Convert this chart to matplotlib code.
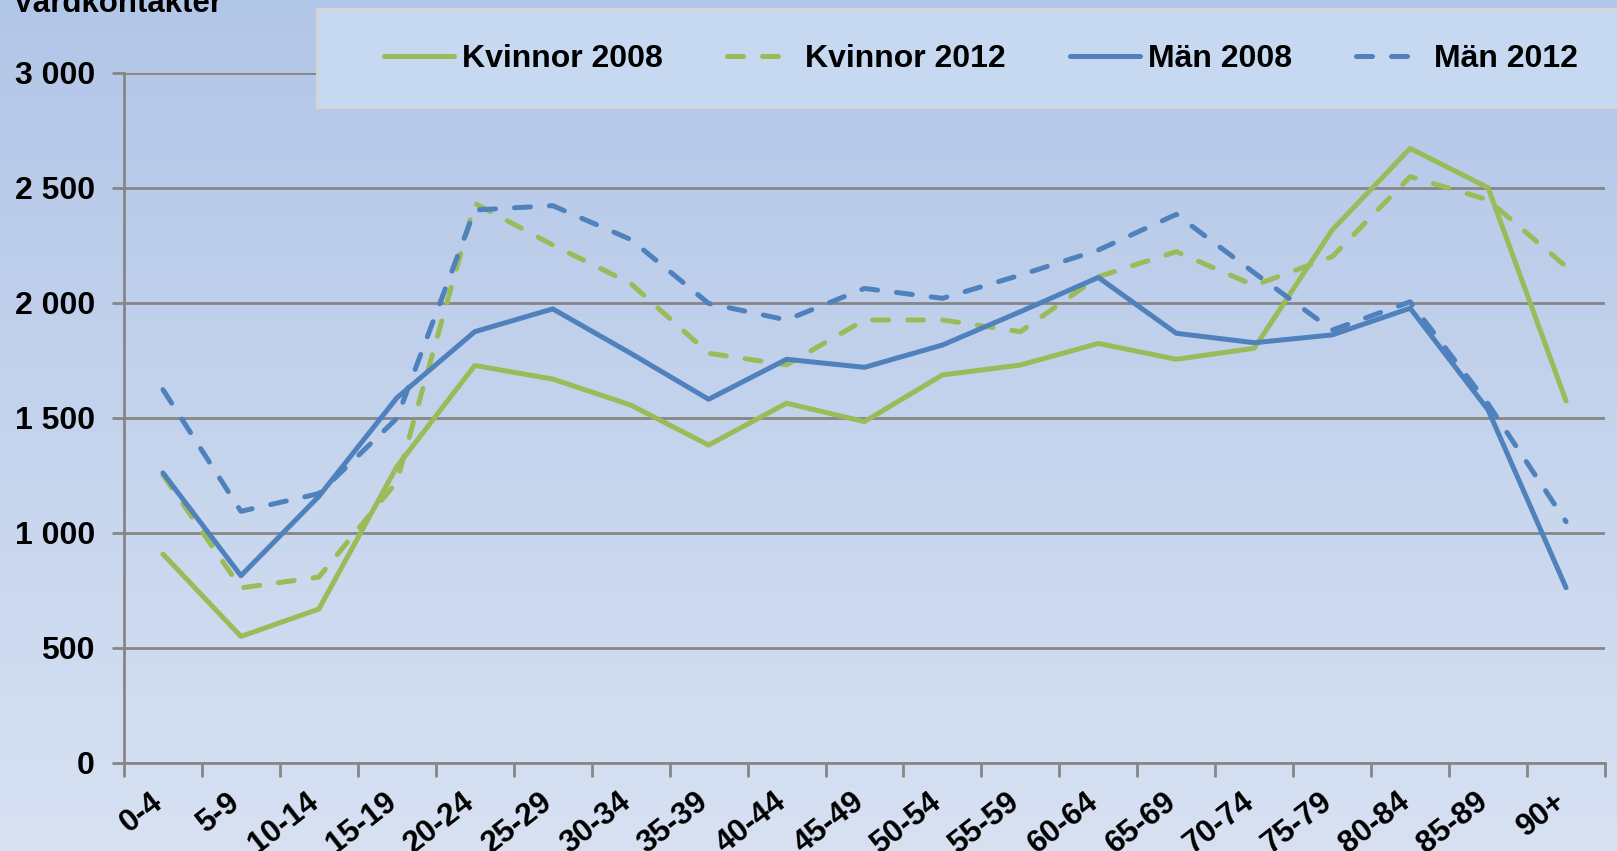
import matplotlib
matplotlib.use("Agg")
import matplotlib.pyplot as plt
import numpy as np
from matplotlib.patches import Rectangle
from matplotlib.colors import LinearSegmentedColormap
from matplotlib.transforms import offset_copy

categories = ['0-4', '5-9', '10-14', '15-19', '20-24', '25-29', '30-34', '35-39',
              '40-44', '45-49', '50-54', '55-59', '60-64', '65-69', '70-74',
              '75-79', '80-84', '85-89', '90+']
kvinnor_2008 = [907, 549, 668, 1287, 1727, 1668, 1555, 1381, 1563, 1483, 1686,
                1729, 1823, 1754, 1802, 2316, 2671, 2500, 1573]
kvinnor_2012 = [1251, 760, 807, 1222, 2432, 2251, 2084, 1780, 1730, 1925, 1925,
                1874, 2113, 2222, 2075, 2200, 2548, 2447, 2157]
man_2008 = [1260, 813, 1158, 1586, 1874, 1973, 1780, 1580, 1754, 1719, 1816,
            1961, 2110, 1867, 1826, 1860, 1976, 1534, 761]
man_2012 = [1622, 1093, 1170, 1497, 2403, 2422, 2275, 1997, 1925, 2062, 2019,
            2120, 2229, 2384, 2130, 1881, 2004, 1560, 1048]
series_labels = ['Kvinnor 2008', 'Kvinnor 2012', 'Män 2008', 'Män 2012']
yticks = [0, 500, 1000, 1500, 2000, 2500, 3000]
ytick_labels = ['0', '500', '1 000', '1 500', '2 000', '2 500', '3 000']
ylabel = 'Vårdkontakter'

GREEN = '#9BBB59'
BLUE = '#4F81BD'
GRID = '#868686'
FONT = ['Liberation Sans', 'DejaVu Sans']

plt.rcParams['font.family'] = FONT
plt.rcParams['font.weight'] = 'bold'

W, H = 1617, 851
fig = plt.figure(figsize=(W / 100, H / 100), dpi=100)

# background gradient
bg = fig.add_axes([0, 0, 1, 1], zorder=-10)
cmap = LinearSegmentedColormap.from_list('bg', ['#B2C6E8', '#D7E1F2'])
grad = np.linspace(0, 1, 256).reshape(-1, 1)
bg.imshow(grad, aspect='auto', cmap=cmap, extent=[0, 1, 0, 1], origin='upper')
bg.set_axis_off()

left, right = 124 / W, 1605 / W
bottom, top = 1 - 762.7 / H, 1 - 72.7 / H
ax = fig.add_axes([left, bottom, right - left, top - bottom])
ax.set_facecolor('none')

x = np.arange(len(categories))
lw = 3.6
dash = (3.2, 3.8)
l1, = ax.plot(x, kvinnor_2008, color=GREEN, lw=lw, solid_capstyle='round',
              solid_joinstyle='round', label=series_labels[0], zorder=3)
l2, = ax.plot(x, kvinnor_2012, color=GREEN, lw=lw, dashes=dash,
              dash_capstyle='round', dash_joinstyle='round', label=series_labels[1], zorder=3)
l3, = ax.plot(x, man_2008, color=BLUE, lw=lw, solid_capstyle='round',
              solid_joinstyle='round', label=series_labels[2], zorder=3)
l4, = ax.plot(x, man_2012, color=BLUE, lw=lw, dashes=dash,
              dash_capstyle='round', dash_joinstyle='round', label=series_labels[3], zorder=3)

ax.set_xlim(-0.5, len(categories) - 0.5)
ax.set_ylim(0, 3000)
ax.set_yticks(yticks)
ax.set_yticklabels(ytick_labels, fontsize=23, fontweight='bold')
ax.grid(axis='y', color=GRID, lw=2, zorder=1)
ax.set_axisbelow(True)

# x ticks at category boundaries
ax.set_xticks(np.arange(-0.5, len(categories), 1.0))
ax.set_xticklabels([])
ax.tick_params(axis='x', length=10, width=2, color=GRID, direction='out')
ax.tick_params(axis='y', length=9, width=2, color=GRID, direction='out', pad=12)
for s in ['top', 'right']:
    ax.spines[s].set_visible(False)
for s in ['left', 'bottom']:
    ax.spines[s].set_color(GRID)
    ax.spines[s].set_linewidth(2)

# rotated category labels
trans = offset_copy(ax.get_xaxis_transform(), fig=fig, x=-13, y=-24, units='dots')
for i, c in enumerate(categories):
    ax.text(i, 0, c, transform=trans, rotation=38, rotation_mode='anchor',
            ha='right', va='top', fontsize=22.5, fontweight='bold')

# y label (clipped at top)
fig.text(13 / W, 1 - 12 / H, ylabel, fontsize=22.5, fontweight='bold',
         ha='left', va='baseline')

# legend box
fig.patches.append(Rectangle((317 / W, 1 - 107 / H), 1.2, 98 / H,
                             transform=fig.transFigure, facecolor='#C6D9F0',
                             edgecolor='#D4D6DA', lw=2, zorder=5))
leg = fig.legend(handles=[l1, l2, l3, l4], labels=series_labels, ncol=4,
                 loc='center left', bbox_to_anchor=(384 / W, 1 - 59 / H),
                 frameon=False, handlelength=2.2,
                 handletextpad=0.25, columnspacing=2.0, borderpad=0,
                 borderaxespad=0, prop={'weight': 'bold', 'size': 23})
leg.set_zorder(6)

fig.savefig('out.png', dpi=100)
